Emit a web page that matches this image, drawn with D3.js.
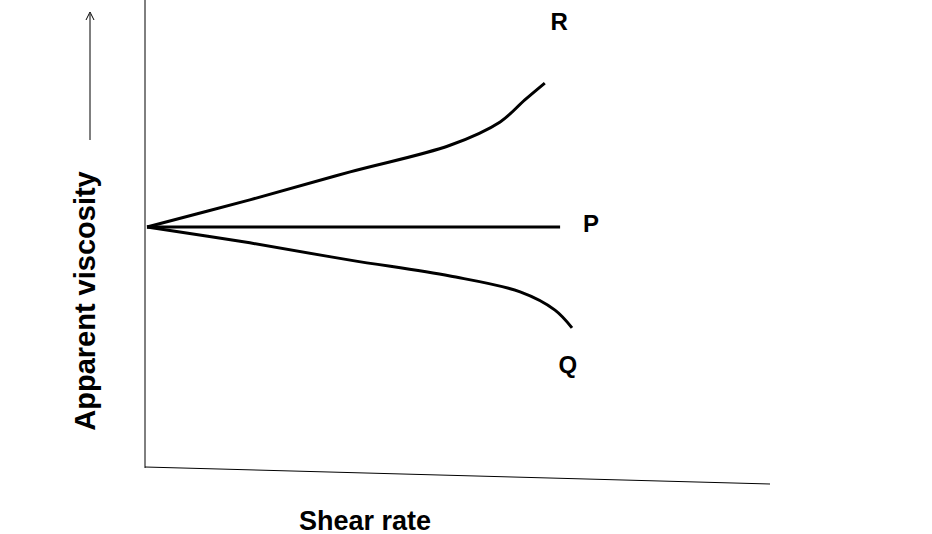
<!DOCTYPE html><html><head><meta charset="utf-8"><script src="https://cdn.jsdelivr.net/npm/d3@7"></script>
<style>body{margin:0;background:#fff}text{font-family:"Liberation Sans",Arial,sans-serif;font-weight:bold}</style></head><body>
<svg id="c" width="932" height="534"></svg>
<script>
const rX=[0,2.42,4.78,7.13,8.31,8.89,9.36], rY=[5.14,5.72,6.32,6.89,7.39,7.86,8.22];
const pX=[0,9.72], pY=[5.14,5.14];
const qX=[0,2.42,4.78,7.13,8.78,9.6,10], qY=[5.14,4.80,4.43,4.09,3.75,3.36,2.98];
const labels=[{t:"R",x:9.7,y:9.5},{t:"P",x:10.45,y:5.17},{t:"Q",x:9.9,y:2.14}];
const svg=d3.select("#c");
const x=d3.scaleLinear().domain([0,10]).range([147,572]);
const y=d3.scaleLinear().domain([0,10]).range([467,0]);
svg.append("line").attr("x1",145).attr("y1",0).attr("x2",145).attr("y2",468).attr("stroke","#000").attr("stroke-width",1);
svg.append("line").attr("x1",145).attr("y1",467).attr("x2",770).attr("y2",484).attr("stroke","#000").attr("stroke-width",1);
const line=d3.line().x(d=>x(d[0])).y(d=>y(d[1])).curve(d3.curveCatmullRom);
[[rX,rY],[pX,pY],[qX,qY]].forEach(([a,b])=>svg.append("path").attr("d",line(a.map((v,i)=>[v,b[i]]))).attr("fill","none").attr("stroke","#000").attr("stroke-width",3));
labels.forEach(l=>svg.append("text").attr("x",x(l.x)).attr("y",y(l.y)).attr("text-anchor","middle").attr("dominant-baseline","middle").attr("font-size",24).text(l.t));
svg.append("text").attr("transform","translate(95,301) rotate(-90)").attr("text-anchor","middle").attr("font-size",29).text("Apparent viscosity");
svg.append("line").attr("x1",90).attr("y1",140).attr("x2",90).attr("y2",14).attr("stroke","#000").attr("stroke-width",1);
svg.append("path").attr("d","M86,20 L90,12 L94,20").attr("fill","none").attr("stroke","#000");
svg.append("text").attr("x",365).attr("y",530).attr("text-anchor","middle").attr("font-size",27).text("Shear rate");
</script></body></html>
